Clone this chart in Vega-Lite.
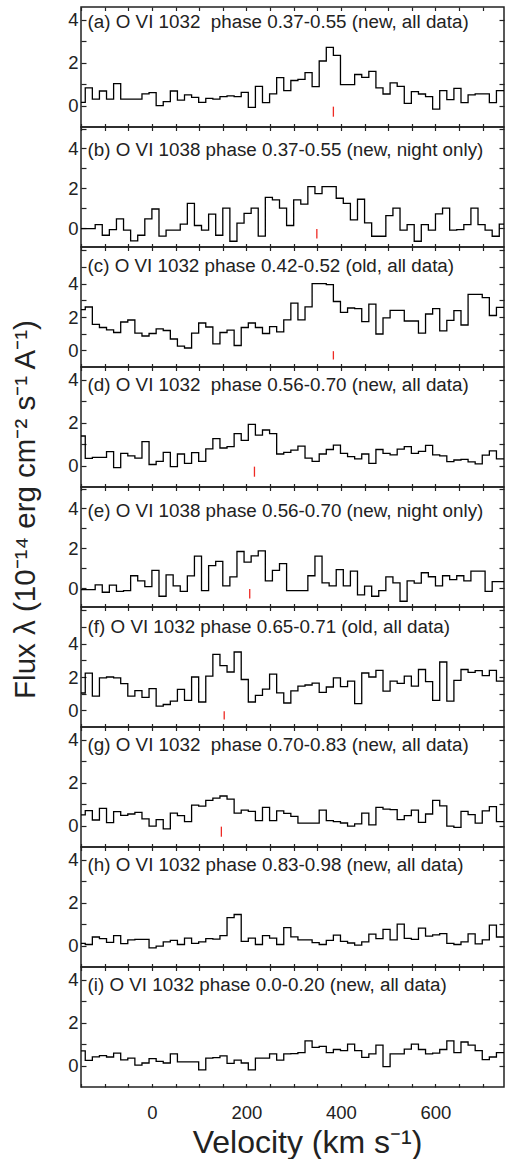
{
"$schema": "https://vega.github.io/schema/vega-lite/v6.json",
"padding": {"left": 9, "top": 5, "right": 0, "bottom": 0},
"background": "white",
"bounds": "flush",
"spacing": 0,
"config": {
  "view": {"stroke": "#222", "strokeWidth": 1.5},
  "axis": {"domain": false, "grid": false, "labelFont": "Liberation Sans", "labelFontSize": 18.5, "labelColor": "#222", "tickColor": "#222", "tickWidth": 1.2, "titleFont": "Liberation Sans", "titleFontSize": 28, "titleFontWeight": "normal", "titleColor": "#222"},
  "axisBottom": {"tickSize": -3.5, "labels": false},
  "axisTop": {"tickSize": -3.5, "labels": false},
  "axisLeft": {"tickSize": -5, "labelPadding": 8},
  "axisRight": {"tickSize": -5, "labels": false},
  "text": {"font": "Liberation Sans", "fontSize": 18.8, "color": "#222"}
},
"datasets": {
  "a": [{"v":-156,"f":0.15},{"v":-141,"f":0.83},{"v":-126,"f":0.3},{"v":-111,"f":0.68},{"v":-96,"f":0.3},{"v":-81,"f":1.02},{"v":-66,"f":0.3},{"v":-51,"f":0.3},{"v":-36,"f":0.3},{"v":-21,"f":0.55},{"v":-6,"f":0.6},{"v":9,"f":0.0},{"v":24,"f":0.18},{"v":39,"f":0.68},{"v":54,"f":0.25},{"v":69,"f":0.5},{"v":84,"f":0.38},{"v":99,"f":0.15},{"v":114,"f":0.34},{"v":129,"f":0.3},{"v":144,"f":0.42},{"v":159,"f":0.45},{"v":174,"f":0.42},{"v":189,"f":0.62},{"v":204,"f":-0.08},{"v":219,"f":0.9},{"v":234,"f":0.14},{"v":249,"f":0.55},{"v":264,"f":1.3},{"v":279,"f":0.7},{"v":294,"f":1.17},{"v":309,"f":1.22},{"v":324,"f":1.54},{"v":339,"f":0.88},{"v":354,"f":2.08},{"v":369,"f":2.72},{"v":384,"f":2.34},{"v":399,"f":0.98},{"v":414,"f":0.98},{"v":429,"f":1.45},{"v":444,"f":1.32},{"v":459,"f":1.6},{"v":474,"f":0.83},{"v":489,"f":0.54},{"v":504,"f":1.06},{"v":519,"f":0.9},{"v":534,"f":0.1},{"v":549,"f":0.65},{"v":564,"f":0.54},{"v":579,"f":0.42},{"v":594,"f":-0.17},{"v":609,"f":0.7},{"v":624,"f":0.28},{"v":639,"f":0.8},{"v":654,"f":0.14},{"v":669,"f":0.5},{"v":684,"f":0.55},{"v":699,"f":0.55},{"v":714,"f":0.14},{"v":729,"f":0.7},{"v":760,"f":0.7}],
  "b": [{"v":-150,"f":-0.03},{"v":-135,"f":-0.03},{"v":-120,"f":0.17},{"v":-105,"f":-0.36},{"v":-90,"f":-0.08},{"v":-75,"f":0.46},{"v":-60,"f":-0.1},{"v":-45,"f":-0.64},{"v":-30,"f":-0.36},{"v":-15,"f":0.46},{"v":0,"f":0.96},{"v":15,"f":-0.4},{"v":30,"f":-0.1},{"v":45,"f":-0.1},{"v":60,"f":0.2},{"v":75,"f":1.24},{"v":90,"f":0.13},{"v":105,"f":-0.1},{"v":120,"f":0.7},{"v":135,"f":-0.36},{"v":150,"f":1.0},{"v":165,"f":-0.66},{"v":180,"f":0.25},{"v":195,"f":0.74},{"v":210,"f":1.0},{"v":225,"f":-0.4},{"v":240,"f":1.54},{"v":255,"f":1.42},{"v":270,"f":1.0},{"v":285,"f":0.13},{"v":300,"f":1.42},{"v":315,"f":1.2},{"v":330,"f":2.08},{"v":345,"f":1.73},{"v":360,"f":2.08},{"v":375,"f":2.08},{"v":390,"f":1.5},{"v":405,"f":1.24},{"v":420,"f":0.41},{"v":435,"f":1.45},{"v":450,"f":0.26},{"v":465,"f":-0.41},{"v":480,"f":-0.41},{"v":495,"f":0.63},{"v":510,"f":1.0},{"v":525,"f":-0.1},{"v":540,"f":0.17},{"v":555,"f":-0.66},{"v":570,"f":0.17},{"v":585,"f":-0.1},{"v":600,"f":0.71},{"v":615,"f":1.0},{"v":630,"f":-0.1},{"v":645,"f":-0.08},{"v":660,"f":0.17},{"v":675,"f":1.0},{"v":690,"f":0.17},{"v":705,"f":-0.1},{"v":720,"f":-0.41},{"v":735,"f":0.2},{"v":760,"f":0.2}],
  "c": [{"v":-156,"f":2.44},{"v":-141,"f":2.6},{"v":-126,"f":1.56},{"v":-111,"f":1.37},{"v":-96,"f":1.23},{"v":-81,"f":1.07},{"v":-66,"f":1.7},{"v":-51,"f":1.82},{"v":-36,"f":1.03},{"v":-21,"f":0.86},{"v":-6,"f":1.01},{"v":9,"f":1.29},{"v":24,"f":1.19},{"v":39,"f":0.68},{"v":54,"f":0.25},{"v":69,"f":0.14},{"v":84,"f":1.03},{"v":99,"f":1.64},{"v":114,"f":1.4},{"v":129,"f":0.39},{"v":144,"f":1.07},{"v":159,"f":1.21},{"v":174,"f":0.29},{"v":189,"f":1.37},{"v":204,"f":1.64},{"v":219,"f":1.37},{"v":234,"f":1.01},{"v":249,"f":1.42},{"v":264,"f":1.11},{"v":279,"f":1.83},{"v":294,"f":2.83},{"v":309,"f":1.83},{"v":324,"f":2.61},{"v":339,"f":4.0},{"v":354,"f":4.0},{"v":369,"f":3.94},{"v":384,"f":2.93},{"v":399,"f":2.28},{"v":414,"f":2.54},{"v":429,"f":2.5},{"v":444,"f":1.72},{"v":459,"f":2.77},{"v":474,"f":0.98},{"v":489,"f":1.95},{"v":504,"f":2.4},{"v":519,"f":2.4},{"v":534,"f":1.76},{"v":549,"f":1.76},{"v":564,"f":1.03},{"v":579,"f":2.18},{"v":594,"f":2.5},{"v":609,"f":1.17},{"v":624,"f":1.8},{"v":639,"f":2.38},{"v":654,"f":1.52},{"v":669,"f":3.36},{"v":684,"f":3.36},{"v":699,"f":3.16},{"v":714,"f":2.09},{"v":729,"f":2.58},{"v":760,"f":2.58}],
  "d": [{"v":-156,"f":1.38},{"v":-141,"f":0.34},{"v":-126,"f":0.38},{"v":-111,"f":0.38},{"v":-96,"f":0.65},{"v":-81,"f":-0.1},{"v":-66,"f":0.57},{"v":-51,"f":0.45},{"v":-36,"f":0.35},{"v":-21,"f":1.12},{"v":-6,"f":0.05},{"v":9,"f":0.2},{"v":24,"f":0.62},{"v":39,"f":-0.05},{"v":54,"f":0.54},{"v":69,"f":0.1},{"v":84,"f":0.6},{"v":99,"f":0.2},{"v":114,"f":0.78},{"v":129,"f":1.26},{"v":144,"f":0.82},{"v":159,"f":0.88},{"v":174,"f":1.49},{"v":189,"f":1.18},{"v":204,"f":1.92},{"v":219,"f":1.42},{"v":234,"f":1.66},{"v":249,"f":1.49},{"v":264,"f":0.54},{"v":279,"f":0.62},{"v":294,"f":0.72},{"v":309,"f":0.91},{"v":324,"f":0.35},{"v":339,"f":0.2},{"v":354,"f":0.54},{"v":369,"f":0.75},{"v":384,"f":0.95},{"v":399,"f":0.57},{"v":414,"f":0.42},{"v":429,"f":0.31},{"v":444,"f":0.54},{"v":459,"f":0.1},{"v":474,"f":0.75},{"v":489,"f":0.57},{"v":504,"f":0.5},{"v":519,"f":0.77},{"v":534,"f":0.88},{"v":549,"f":0.57},{"v":564,"f":0.66},{"v":579,"f":0.94},{"v":594,"f":0.5},{"v":609,"f":0.45},{"v":624,"f":0.18},{"v":639,"f":0.26},{"v":654,"f":0.29},{"v":669,"f":0.17},{"v":684,"f":0.08},{"v":699,"f":0.49},{"v":714,"f":0.69},{"v":729,"f":0.31},{"v":760,"f":0.31}],
  "e": [{"v":-150,"f":-0.08},{"v":-135,"f":-0.08},{"v":-120,"f":0.16},{"v":-105,"f":-0.21},{"v":-90,"f":0.15},{"v":-75,"f":-0.16},{"v":-60,"f":-0.13},{"v":-45,"f":0.62},{"v":-30,"f":0.36},{"v":-15,"f":0.07},{"v":0,"f":0.89},{"v":15,"f":-0.41},{"v":30,"f":0.66},{"v":45,"f":0.11},{"v":60,"f":-0.16},{"v":75,"f":0.61},{"v":90,"f":1.61},{"v":105,"f":-0.13},{"v":120,"f":1.13},{"v":135,"f":1.34},{"v":150,"f":0.11},{"v":165,"f":0.56},{"v":180,"f":1.84},{"v":195,"f":1.3},{"v":210,"f":1.62},{"v":225,"f":1.87},{"v":240,"f":0.36},{"v":255,"f":0.89},{"v":270,"f":1.23},{"v":285,"f":-0.13},{"v":300,"f":-0.13},{"v":315,"f":-0.13},{"v":330,"f":0.62},{"v":345,"f":1.61},{"v":360,"f":0.26},{"v":375,"f":0.11},{"v":390,"f":0.93},{"v":405,"f":0.11},{"v":420,"f":0.85},{"v":435,"f":-0.34},{"v":450,"f":0.1},{"v":465,"f":-0.41},{"v":480,"f":-0.13},{"v":495,"f":0.56},{"v":510,"f":0.26},{"v":525,"f":-0.66},{"v":540,"f":0.36},{"v":555,"f":0.25},{"v":570,"f":0.77},{"v":585,"f":0.57},{"v":600,"f":0.11},{"v":615,"f":0.62},{"v":630,"f":0.43},{"v":645,"f":0.62},{"v":660,"f":0.36},{"v":675,"f":0.85},{"v":690,"f":0.85},{"v":705,"f":-0.16},{"v":720,"f":0.33},{"v":735,"f":0.33},{"v":760,"f":0.33}],
  "f": [{"v":-156,"f":1.04},{"v":-141,"f":2.23},{"v":-126,"f":0.85},{"v":-111,"f":1.95},{"v":-96,"f":2.0},{"v":-81,"f":1.95},{"v":-66,"f":1.6},{"v":-51,"f":0.85},{"v":-36,"f":1.18},{"v":-21,"f":0.78},{"v":-6,"f":1.3},{"v":9,"f":0.25},{"v":24,"f":0.35},{"v":39,"f":0.55},{"v":54,"f":1.26},{"v":69,"f":0.6},{"v":84,"f":2.0},{"v":99,"f":0.5},{"v":114,"f":2.05},{"v":129,"f":3.36},{"v":144,"f":2.68},{"v":159,"f":2.3},{"v":174,"f":3.5},{"v":189,"f":1.85},{"v":204,"f":0.5},{"v":219,"f":0.9},{"v":234,"f":1.27},{"v":249,"f":2.17},{"v":264,"f":1.05},{"v":279,"f":0.44},{"v":294,"f":1.17},{"v":309,"f":1.45},{"v":324,"f":1.52},{"v":339,"f":1.63},{"v":354,"f":1.08},{"v":369,"f":1.4},{"v":384,"f":1.95},{"v":399,"f":1.42},{"v":414,"f":1.75},{"v":429,"f":0.4},{"v":444,"f":2.24},{"v":459,"f":2.0},{"v":474,"f":2.4},{"v":489,"f":1.15},{"v":504,"f":1.75},{"v":519,"f":1.62},{"v":534,"f":2.05},{"v":549,"f":1.45},{"v":564,"f":2.45},{"v":579,"f":1.72},{"v":594,"f":0.6},{"v":609,"f":2.9},{"v":624,"f":0.55},{"v":639,"f":1.8},{"v":654,"f":2.45},{"v":669,"f":2.28},{"v":684,"f":2.38},{"v":699,"f":2.08},{"v":714,"f":2.4},{"v":729,"f":1.75},{"v":760,"f":1.75}],
  "g": [{"v":-156,"f":0.5},{"v":-141,"f":0.7},{"v":-126,"f":0.26},{"v":-111,"f":0.8},{"v":-96,"f":0.14},{"v":-81,"f":0.65},{"v":-66,"f":0.48},{"v":-51,"f":0.54},{"v":-36,"f":0.62},{"v":-21,"f":0.31},{"v":-6,"f":-0.03},{"v":9,"f":0.28},{"v":24,"f":-0.15},{"v":39,"f":0.58},{"v":54,"f":0.46},{"v":69,"f":0.18},{"v":84,"f":0.95},{"v":99,"f":0.91},{"v":114,"f":1.18},{"v":129,"f":1.28},{"v":144,"f":1.38},{"v":159,"f":1.23},{"v":174,"f":0.58},{"v":189,"f":0.72},{"v":204,"f":0.66},{"v":219,"f":0.23},{"v":234,"f":0.85},{"v":249,"f":0.23},{"v":264,"f":0.69},{"v":279,"f":0.57},{"v":294,"f":0.43},{"v":309,"f":0.11},{"v":324,"f":0.11},{"v":339,"f":0.11},{"v":354,"f":0.72},{"v":369,"f":0.23},{"v":384,"f":0.18},{"v":399,"f":0.12},{"v":414,"f":-0.03},{"v":429,"f":0.08},{"v":444,"f":0.58},{"v":459,"f":0.03},{"v":474,"f":0.85},{"v":489,"f":0.77},{"v":504,"f":0.74},{"v":519,"f":0.28},{"v":534,"f":0.46},{"v":549,"f":0.72},{"v":564,"f":0.15},{"v":579,"f":0.54},{"v":594,"f":1.18},{"v":609,"f":0.92},{"v":624,"f":-0.03},{"v":639,"f":-0.08},{"v":654,"f":0.66},{"v":669,"f":0.51},{"v":684,"f":0.11},{"v":699,"f":0.69},{"v":714,"f":0.88},{"v":729,"f":0.18},{"v":760,"f":0.18}],
  "h": [{"v":-156,"f":0.1},{"v":-141,"f":0.05},{"v":-126,"f":0.4},{"v":-111,"f":0.32},{"v":-96,"f":0.15},{"v":-81,"f":0.46},{"v":-66,"f":0.09},{"v":-51,"f":0.27},{"v":-36,"f":0.29},{"v":-21,"f":0.29},{"v":-6,"f":-0.11},{"v":9,"f":-0.03},{"v":24,"f":0.17},{"v":39,"f":0.24},{"v":54,"f":0.05},{"v":69,"f":0.35},{"v":84,"f":0.1},{"v":99,"f":0.17},{"v":114,"f":0.32},{"v":129,"f":0.3},{"v":144,"f":0.46},{"v":159,"f":1.3},{"v":174,"f":1.45},{"v":189,"f":0.2},{"v":204,"f":0.35},{"v":219,"f":0.05},{"v":234,"f":0.46},{"v":249,"f":0.35},{"v":264,"f":0.05},{"v":279,"f":0.84},{"v":294,"f":0.41},{"v":309,"f":0.27},{"v":324,"f":0.27},{"v":339,"f":0.14},{"v":354,"f":0.05},{"v":369,"f":0.24},{"v":384,"f":0.49},{"v":399,"f":0.2},{"v":414,"f":0.12},{"v":429,"f":0.02},{"v":444,"f":0.17},{"v":459,"f":0.53},{"v":474,"f":0.32},{"v":489,"f":0.76},{"v":504,"f":0.27},{"v":519,"f":1.0},{"v":534,"f":0.34},{"v":549,"f":0.29},{"v":564,"f":0.81},{"v":579,"f":0.44},{"v":594,"f":0.5},{"v":609,"f":0.56},{"v":624,"f":0.1},{"v":639,"f":0.05},{"v":654,"f":0.17},{"v":669,"f":0.55},{"v":684,"f":0.08},{"v":699,"f":0.27},{"v":714,"f":0.95},{"v":729,"f":0.4},{"v":760,"f":0.4}],
  "i": [{"v":-156,"f":0.69},{"v":-141,"f":0.24},{"v":-126,"f":0.41},{"v":-111,"f":0.46},{"v":-96,"f":0.4},{"v":-81,"f":0.58},{"v":-66,"f":0.27},{"v":-51,"f":0.35},{"v":-36,"f":0.02},{"v":-21,"f":0.12},{"v":-6,"f":0.32},{"v":9,"f":0.2},{"v":24,"f":0.12},{"v":39,"f":0.55},{"v":54,"f":0.17},{"v":69,"f":0.17},{"v":84,"f":0.17},{"v":99,"f":-0.2},{"v":114,"f":0.35},{"v":129,"f":0.37},{"v":144,"f":0.45},{"v":159,"f":0.1},{"v":174,"f":0.25},{"v":189,"f":0.12},{"v":204,"f":-0.2},{"v":219,"f":0.35},{"v":234,"f":0.35},{"v":249,"f":0.55},{"v":264,"f":0.25},{"v":279,"f":0.55},{"v":294,"f":0.56},{"v":309,"f":0.6},{"v":324,"f":1.15},{"v":339,"f":0.85},{"v":354,"f":0.9},{"v":369,"f":0.6},{"v":384,"f":0.75},{"v":399,"f":0.7},{"v":414,"f":1.0},{"v":429,"f":0.7},{"v":444,"f":0.38},{"v":459,"f":0.55},{"v":474,"f":0.95},{"v":489,"f":-0.05},{"v":504,"f":0.55},{"v":519,"f":0.55},{"v":534,"f":0.77},{"v":549,"f":1.0},{"v":564,"f":0.75},{"v":579,"f":0.55},{"v":594,"f":0.58},{"v":609,"f":0.75},{"v":624,"f":1.15},{"v":639,"f":0.6},{"v":654,"f":1.1},{"v":669,"f":0.95},{"v":684,"f":0.7},{"v":699,"f":0.28},{"v":714,"f":0.4},{"v":729,"f":0.6},{"v":760,"f":0.6}],
  "redticks": [{"p":"a","v":384},{"p":"b","v":349},{"p":"c","v":384},{"p":"d","v":217},{"p":"e","v":207},{"p":"f","v":153},{"p":"g","v":147}],
  "labels": [
    {"p":"a","t":"(a) O VI 1032\u00a0 phase 0.37-0.55 (new, all data)"},
    {"p":"b","t":"(b) O VI 1038 phase 0.37-0.55 (new, night only)"},
    {"p":"c","t":"(c) O VI 1032 phase 0.42-0.52 (old, all data)"},
    {"p":"d","t":"(d) O VI 1032\u00a0 phase 0.56-0.70 (new, all data)"},
    {"p":"e","t":"(e) O VI 1038 phase 0.56-0.70 (new, night only)"},
    {"p":"f","t":"(f) O VI 1032 phase 0.65-0.71 (old, all data)"},
    {"p":"g","t":"(g) O VI 1032\u00a0 phase 0.70-0.83 (new, all data)"},
    {"p":"h","t":"(h) O VI 1032 phase 0.83-0.98 (new, all data)"},
    {"p":"i","t":"(i) O VI 1032 phase 0.0-0.20 (new, all data)"}
  ]
},
"vconcat": [
{"width":423,"height":120,"layer":[
 {"data":{"name":"a"},"mark":{"type":"line","interpolate":"step-after","color":"#000","strokeWidth":1.3,"clip":true},"encoding":{"x":{"field":"v","type":"quantitative","scale":{"domain":[-150,745],"nice":false,"zero":false},"axis":{"values":[-150,-100,-50,0,50,100,150,200,250,300,350,400,450,500,550,600,650,700],"title":null}},"y":{"field":"f","type":"quantitative","scale":{"domain":[-1,4.6],"nice":false,"zero":false},"axis":{"values":[0,1,2,3,4],"labelExpr":"datum.value % 2 === 0 ? datum.label : ''","title":null}}}},
 {"data":{"name":"redticks"},"transform":[{"filter":"datum.p === 'a'"}],"mark":{"type":"rule","color":"#ee2a24","strokeWidth":1.3},"encoding":{"x":{"field":"v","type":"quantitative","axis":null},"y":{"datum":-0.05,"type":"quantitative","axis":null},"y2":{"datum":-0.52}}},
 {"data":{"name":"labels"},"transform":[{"filter":"datum.p === 'a'"}],"mark":{"type":"text","align":"left","baseline":"middle"},"encoding":{"x":{"datum":-136,"type":"quantitative","axis":{"orient":"top","values":[-150,-100,-50,0,50,100,150,200,250,300,350,400,450,500,550,600,650,700],"title":null}},"y":{"datum":3.88,"type":"quantitative","axis":{"orient":"right","values":[0,1,2,3,4],"title":null}},"text":{"field":"t"}}}
],"resolve":{"axis":{"x":"independent","y":"independent"}}},
{"width":423,"height":120,"layer":[
 {"data":{"name":"b"},"mark":{"type":"line","interpolate":"step-after","color":"#000","strokeWidth":1.3,"clip":true},"encoding":{"x":{"field":"v","type":"quantitative","scale":{"domain":[-150,745],"nice":false,"zero":false},"axis":{"values":[-150,-100,-50,0,50,100,150,200,250,300,350,400,450,500,550,600,650,700],"title":null}},"y":{"field":"f","type":"quantitative","scale":{"domain":[-0.95,5.08],"nice":false,"zero":false},"axis":{"values":[0,1,2,3,4,5],"labelExpr":"datum.value % 2 === 0 ? datum.label : ''","title":null}}}},
 {"data":{"name":"redticks"},"transform":[{"filter":"datum.p === 'b'"}],"mark":{"type":"rule","color":"#ee2a24","strokeWidth":1.3},"encoding":{"x":{"field":"v","type":"quantitative","axis":null},"y":{"datum":-0.05,"type":"quantitative","axis":null},"y2":{"datum":-0.52}}},
 {"data":{"name":"labels"},"transform":[{"filter":"datum.p === 'b'"}],"mark":{"type":"text","align":"left","baseline":"middle"},"encoding":{"x":{"datum":-136,"type":"quantitative","axis":{"orient":"top","values":[-150,-100,-50,0,50,100,150,200,250,300,350,400,450,500,550,600,650,700],"title":null}},"y":{"datum":3.9,"type":"quantitative","axis":{"orient":"right","values":[0,1,2,3,4,5],"title":null}},"text":{"field":"t"}}}
],"resolve":{"axis":{"x":"independent","y":"independent"}}},
{"width":423,"height":120,"layer":[
 {"data":{"name":"c"},"mark":{"type":"line","interpolate":"step-after","color":"#000","strokeWidth":1.3,"clip":true},"encoding":{"x":{"field":"v","type":"quantitative","scale":{"domain":[-150,745],"nice":false,"zero":false},"axis":{"values":[-150,-100,-50,0,50,100,150,200,250,300,350,400,450,500,550,600,650,700],"title":null}},"y":{"field":"f","type":"quantitative","scale":{"domain":[-1,6.2],"nice":false,"zero":false},"axis":{"values":[0,1,2,3,4,5,6],"labelExpr":"datum.value % 2 === 0 && datum.value < 5 ? datum.label : ''","title":null}}}},
 {"data":{"name":"redticks"},"transform":[{"filter":"datum.p === 'c'"}],"mark":{"type":"rule","color":"#ee2a24","strokeWidth":1.3},"encoding":{"x":{"field":"v","type":"quantitative","axis":null},"y":{"datum":-0.05,"type":"quantitative","axis":null},"y2":{"datum":-0.55}}},
 {"data":{"name":"labels"},"transform":[{"filter":"datum.p === 'c'"}],"mark":{"type":"text","align":"left","baseline":"middle"},"encoding":{"x":{"datum":-136,"type":"quantitative","axis":{"orient":"top","values":[-150,-100,-50,0,50,100,150,200,250,300,350,400,450,500,550,600,650,700],"title":null}},"y":{"datum":5.08,"type":"quantitative","axis":{"orient":"right","values":[0,1,2,3,4,5,6],"title":null}},"text":{"field":"t"}}}
],"resolve":{"axis":{"x":"independent","y":"independent"}}},
{"width":423,"height":120,"layer":[
 {"data":{"name":"d"},"mark":{"type":"line","interpolate":"step-after","color":"#000","strokeWidth":1.3,"clip":true},"encoding":{"x":{"field":"v","type":"quantitative","scale":{"domain":[-150,745],"nice":false,"zero":false},"axis":{"values":[-150,-100,-50,0,50,100,150,200,250,300,350,400,450,500,550,600,650,700],"title":null}},"y":{"field":"f","type":"quantitative","scale":{"domain":[-1,4.6],"nice":false,"zero":false},"axis":{"values":[0,1,2,3,4],"labelExpr":"datum.value % 2 === 0 ? datum.label : ''","title":null}}}},
 {"data":{"name":"redticks"},"transform":[{"filter":"datum.p === 'd'"}],"mark":{"type":"rule","color":"#ee2a24","strokeWidth":1.3},"encoding":{"x":{"field":"v","type":"quantitative","axis":null},"y":{"datum":-0.05,"type":"quantitative","axis":null},"y2":{"datum":-0.52}}},
 {"data":{"name":"labels"},"transform":[{"filter":"datum.p === 'd'"}],"mark":{"type":"text","align":"left","baseline":"middle"},"encoding":{"x":{"datum":-136,"type":"quantitative","axis":{"orient":"top","values":[-150,-100,-50,0,50,100,150,200,250,300,350,400,450,500,550,600,650,700],"title":null}},"y":{"datum":3.77,"type":"quantitative","axis":{"orient":"right","values":[0,1,2,3,4],"title":null}},"text":{"field":"t"}}}
],"resolve":{"axis":{"x":"independent","y":"independent"}}},
{"width":423,"height":120,"layer":[
 {"data":{"name":"e"},"mark":{"type":"line","interpolate":"step-after","color":"#000","strokeWidth":1.3,"clip":true},"encoding":{"x":{"field":"v","type":"quantitative","scale":{"domain":[-150,745],"nice":false,"zero":false},"axis":{"values":[-150,-100,-50,0,50,100,150,200,250,300,350,400,450,500,550,600,650,700],"title":null}},"y":{"field":"f","type":"quantitative","scale":{"domain":[-0.95,5.08],"nice":false,"zero":false},"axis":{"values":[0,1,2,3,4,5],"labelExpr":"datum.value % 2 === 0 ? datum.label : ''","title":"Flux λ (10⁻¹⁴ erg cm⁻² s⁻¹ A⁻¹)","titleFontSize":29.5,"titleX":-47,"titleY":22,"titleAngle":270,"titleBaseline":"alphabetic","titleAlign":"center"}}}},
 {"data":{"name":"redticks"},"transform":[{"filter":"datum.p === 'e'"}],"mark":{"type":"rule","color":"#ee2a24","strokeWidth":1.3},"encoding":{"x":{"field":"v","type":"quantitative","axis":null},"y":{"datum":-0.05,"type":"quantitative","axis":null},"y2":{"datum":-0.52}}},
 {"data":{"name":"labels"},"transform":[{"filter":"datum.p === 'e'"}],"mark":{"type":"text","align":"left","baseline":"middle"},"encoding":{"x":{"datum":-136,"type":"quantitative","axis":{"orient":"top","values":[-150,-100,-50,0,50,100,150,200,250,300,350,400,450,500,550,600,650,700],"title":null}},"y":{"datum":3.88,"type":"quantitative","axis":{"orient":"right","values":[0,1,2,3,4,5],"title":null}},"text":{"field":"t"}}}
],"resolve":{"axis":{"x":"independent","y":"independent"}}},
{"width":423,"height":120,"layer":[
 {"data":{"name":"f"},"mark":{"type":"line","interpolate":"step-after","color":"#000","strokeWidth":1.3,"clip":true},"encoding":{"x":{"field":"v","type":"quantitative","scale":{"domain":[-150,745],"nice":false,"zero":false},"axis":{"values":[-150,-100,-50,0,50,100,150,200,250,300,350,400,450,500,550,600,650,700],"title":null}},"y":{"field":"f","type":"quantitative","scale":{"domain":[-1,6.2],"nice":false,"zero":false},"axis":{"values":[0,1,2,3,4,5,6],"labelExpr":"datum.value % 2 === 0 && datum.value < 5 ? datum.label : ''","title":null}}}},
 {"data":{"name":"redticks"},"transform":[{"filter":"datum.p === 'f'"}],"mark":{"type":"rule","color":"#ee2a24","strokeWidth":1.3},"encoding":{"x":{"field":"v","type":"quantitative","axis":null},"y":{"datum":-0.05,"type":"quantitative","axis":null},"y2":{"datum":-0.55}}},
 {"data":{"name":"labels"},"transform":[{"filter":"datum.p === 'f'"}],"mark":{"type":"text","align":"left","baseline":"middle"},"encoding":{"x":{"datum":-136,"type":"quantitative","axis":{"orient":"top","values":[-150,-100,-50,0,50,100,150,200,250,300,350,400,450,500,550,600,650,700],"title":null}},"y":{"datum":5.0,"type":"quantitative","axis":{"orient":"right","values":[0,1,2,3,4,5,6],"title":null}},"text":{"field":"t"}}}
],"resolve":{"axis":{"x":"independent","y":"independent"}}},
{"width":423,"height":120,"layer":[
 {"data":{"name":"g"},"mark":{"type":"line","interpolate":"step-after","color":"#000","strokeWidth":1.3,"clip":true},"encoding":{"x":{"field":"v","type":"quantitative","scale":{"domain":[-150,745],"nice":false,"zero":false},"axis":{"values":[-150,-100,-50,0,50,100,150,200,250,300,350,400,450,500,550,600,650,700],"title":null}},"y":{"field":"f","type":"quantitative","scale":{"domain":[-1,4.6],"nice":false,"zero":false},"axis":{"values":[0,1,2,3,4],"labelExpr":"datum.value % 2 === 0 ? datum.label : ''","title":null}}}},
 {"data":{"name":"redticks"},"transform":[{"filter":"datum.p === 'g'"}],"mark":{"type":"rule","color":"#ee2a24","strokeWidth":1.3},"encoding":{"x":{"field":"v","type":"quantitative","axis":null},"y":{"datum":-0.05,"type":"quantitative","axis":null},"y2":{"datum":-0.52}}},
 {"data":{"name":"labels"},"transform":[{"filter":"datum.p === 'g'"}],"mark":{"type":"text","align":"left","baseline":"middle"},"encoding":{"x":{"datum":-136,"type":"quantitative","axis":{"orient":"top","values":[-150,-100,-50,0,50,100,150,200,250,300,350,400,450,500,550,600,650,700],"title":null}},"y":{"datum":3.77,"type":"quantitative","axis":{"orient":"right","values":[0,1,2,3,4],"title":null}},"text":{"field":"t"}}}
],"resolve":{"axis":{"x":"independent","y":"independent"}}},
{"width":423,"height":120,"layer":[
 {"data":{"name":"h"},"mark":{"type":"line","interpolate":"step-after","color":"#000","strokeWidth":1.3,"clip":true},"encoding":{"x":{"field":"v","type":"quantitative","scale":{"domain":[-150,745],"nice":false,"zero":false},"axis":{"values":[-150,-100,-50,0,50,100,150,200,250,300,350,400,450,500,550,600,650,700],"title":null}},"y":{"field":"f","type":"quantitative","scale":{"domain":[-1,4.6],"nice":false,"zero":false},"axis":{"values":[0,1,2,3,4],"labelExpr":"datum.value % 2 === 0 ? datum.label : ''","title":null}}}},
 {"data":{"name":"labels"},"transform":[{"filter":"datum.p === 'h'"}],"mark":{"type":"text","align":"left","baseline":"middle"},"encoding":{"x":{"datum":-136,"type":"quantitative","axis":{"orient":"top","values":[-150,-100,-50,0,50,100,150,200,250,300,350,400,450,500,550,600,650,700],"title":null}},"y":{"datum":3.77,"type":"quantitative","axis":{"orient":"right","values":[0,1,2,3,4],"title":null}},"text":{"field":"t"}}}
],"resolve":{"axis":{"x":"independent","y":"independent"}}},
{"width":423,"height":120,"layer":[
 {"data":{"name":"i"},"mark":{"type":"line","interpolate":"step-after","color":"#000","strokeWidth":1.3,"clip":true},"encoding":{"x":{"field":"v","type":"quantitative","scale":{"domain":[-150,745],"nice":false,"zero":false},"axis":{"values":[-150,-100,-50,0,50,100,150,200,250,300,350,400,450,500,550,600,650,700],"labels":true,"labelExpr":"datum.value % 200 === 0 ? datum.label : ''","labelBaseline":"alphabetic","labelPadding":35,"labelFlush":false,"labelOverlap":false,"title":"Velocity (km s⁻¹)","titleFontSize":32,"titleX":226,"titleY":65,"titleBaseline":"alphabetic","titleAlign":"center"}},"y":{"field":"f","type":"quantitative","scale":{"domain":[-1,4.6],"nice":false,"zero":false},"axis":{"values":[0,1,2,3,4],"labelExpr":"datum.value % 2 === 0 ? datum.label : ''","title":null}}}},
 {"data":{"name":"labels"},"transform":[{"filter":"datum.p === 'i'"}],"mark":{"type":"text","align":"left","baseline":"middle"},"encoding":{"x":{"datum":-136,"type":"quantitative","axis":{"orient":"top","values":[-150,-100,-50,0,50,100,150,200,250,300,350,400,450,500,550,600,650,700],"title":null}},"y":{"datum":3.77,"type":"quantitative","axis":{"orient":"right","values":[0,1,2,3,4],"title":null}},"text":{"field":"t"}}}
],"resolve":{"axis":{"x":"independent","y":"independent"}}}
]
}
